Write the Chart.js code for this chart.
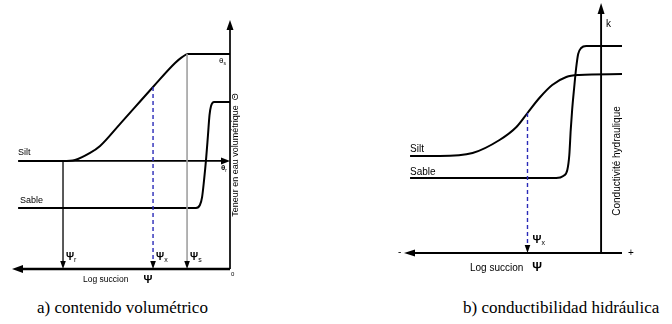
<!DOCTYPE html>
<html>
<head>
<meta charset="utf-8">
<script src="https://cdn.jsdelivr.net/npm/chart.js@4.4.1/dist/chart.umd.min.js"></script>
<style>
  html,body{margin:0;padding:0;background:#fff;}
  #wrap{position:relative;width:672px;height:324px;overflow:hidden;background:#fff;}
  canvas{position:absolute;top:0;}
  .cap{position:absolute;font-family:"Liberation Serif","Times New Roman",serif;font-size:17px;color:#000;white-space:nowrap;line-height:17px;}
</style>
</head>
<body>
<div id="wrap">
  <canvas id="ca" width="336" height="290" style="left:0;width:336px;height:290px"></canvas>
  <canvas id="cb" width="336" height="290" style="left:336px;width:336px;height:290px"></canvas>
  <div class="cap" style="left:37px;top:299px">a) contenido volumétrico</div>
  <div class="cap" style="left:463px;top:299px">b) conductibilidad hidráulica</div>
</div>
<script>
// ---------- DATA (x = log suction, increasing to the left; y = water content / log k) ----------
// Panel a) water content
const aSiltSuction   = [0, 1.93, 2.20, 2.52, 3.53, 5.05, 5.96, 6.42, 7.11, 7.66, 9.72];
const aSiltTheta     = [86.3, 86.3, 85.1, 82.7, 73.1, 58.2, 49.4, 46.6, 43.8, 43.4, 43.4];
const aSableSuction  = [0, 0.73, 0.87, 0.94, 1.01, 1.10, 1.19, 1.28, 1.38, 1.56, 9.72];
const aSableTheta    = [67.1, 67.1, 65.5, 61.8, 53.8, 43.8, 35.7, 28.9, 25.7, 24.5, 24.5];
const aPsiSuction    = [7.66, 3.53, 1.97];        // Ψr, Ψx, Ψs
const aPsiTheta      = [43.4, 73.1, 86.3];        // θ where each marker starts
const aPsiLabels     = ["r", "x", "s"];
const aThetaLevels   = [86.3, 43.4];              // θs, θr
const aThetaLabels   = ["s", "r"];
// Panel b) hydraulic conductivity
const bSiltSuction   = [-1.04, 1.09, 1.73, 2.43, 3.07, 3.66, 4.21, 5.05, 6.39, 8.02, 9.50];
const bSiltK         = [71.6, 71.2, 70.4, 67.2, 62.0, 56.0, 50.4, 45.2, 40.0, 38.8, 38.8];
const bSableSuction  = [-1.04, 0.74, 0.99, 1.14, 1.24, 1.34, 1.44, 1.51, 1.58, 1.68, 1.88, 2.23, 9.50];
const bSableK        = [82.8, 82.8, 82.0, 79.6, 74.0, 66.0, 57.2, 49.2, 39.2, 33.2, 30.8, 30.0, 30.0];
const bPsiSuction    = [3.66];
const bPsiK          = [56.0];
const bPsiLabels     = ["x"];

const toPts = (xs, ys) => xs.map((v, i) => ({x: v, y: ys[i]}));
const SANS = '"Liberation Sans", Arial, sans-serif';

function arrow(ctx, x1, y1, x2, y2, color, lw, hl, hw, dash, headColor) {
  const ang = Math.atan2(y2 - y1, x2 - x1);
  const bx = x2 - Math.cos(ang) * hl, by = y2 - Math.sin(ang) * hl;
  ctx.save();
  ctx.strokeStyle = color; ctx.lineWidth = lw;
  if (dash) ctx.setLineDash(dash);
  ctx.beginPath(); ctx.moveTo(x1, y1); ctx.lineTo(bx, by); ctx.stroke();
  ctx.setLineDash([]);
  ctx.fillStyle = headColor || color;
  ctx.beginPath();
  ctx.moveTo(x2, y2);
  ctx.lineTo(bx + Math.sin(ang) * hw, by - Math.cos(ang) * hw);
  ctx.lineTo(bx - Math.sin(ang) * hw, by + Math.cos(ang) * hw);
  ctx.closePath(); ctx.fill();
  ctx.restore();
}
function txt(ctx, s, x, y, size, opts) {
  opts = opts || {};
  ctx.save();
  ctx.font = (opts.bold ? 'bold ' : '') + size + 'px ' + SANS;
  ctx.fillStyle = '#000';
  ctx.textAlign = opts.align || 'left';
  ctx.textBaseline = 'middle';
  if (opts.rot) { ctx.translate(x, y); ctx.rotate(opts.rot); ctx.fillText(s, 0, 0); }
  else ctx.fillText(s, x, y);
  ctx.restore();
}
function sym(ctx, main, sub, x, y, size, bold) {
  ctx.save();
  ctx.font = (bold ? 'bold ' : '') + size + 'px ' + SANS;
  ctx.fillStyle = '#000'; ctx.textBaseline = 'middle'; ctx.textAlign = 'left';
  ctx.fillText(main, x, y);
  const w = ctx.measureText(main).width;
  ctx.font = Math.round(size * 0.65) + 'px ' + SANS;
  ctx.fillText(sub, x + w, y + size * 0.3);
  ctx.restore();
}

const baseOpts = (xmin, xmax) => ({
  responsive: false, animation: false, devicePixelRatio: 1,
  plugins: {legend: {display: false}, tooltip: {enabled: false}, title: {display: false}},
  elements: {point: {radius: 0}},
  scales: {
    x: {type: 'linear', min: xmin, max: xmax, reverse: true, display: false},
    y: {type: 'linear', min: 0, max: 100, display: false}
  }
});
const curve = (pts) => ({
  data: pts, showLine: true, borderColor: '#000', borderWidth: 2,
  cubicInterpolationMode: 'monotone', pointRadius: 0, clip: false, fill: false
});

// ---------- Panel a ----------
const optsA = baseOpts(0, 10);
optsA.layout = {padding: {left: 12, right: 106, top: 20, bottom: 21}};
new Chart(document.getElementById('ca'), {
  type: 'scatter',
  data: {datasets: [curve(toPts(aSiltSuction, aSiltTheta)), curve(toPts(aSableSuction, aSableTheta))]},
  options: optsA,
  plugins: [{
    id: 'annA',
    afterDatasetsDraw(chart) {
      const ctx = chart.ctx, X = v => chart.scales.x.getPixelForValue(v), Y = v => chart.scales.y.getPixelForValue(v);
      // axes
      arrow(ctx, X(0), Y(0), X(10), Y(0), '#000', 2.4, 11, 4);
      arrow(ctx, X(0), Y(0), X(0), Y(100), '#000', 1.7, 10, 3.5);
      // θr line with arrow to the axis
      arrow(ctx, X(aPsiSuction[0]), Y(aThetaLevels[1]), X(0), Y(aThetaLevels[1]), '#000', 1.7, 9, 3.5);
      // suction markers
      arrow(ctx, X(aPsiSuction[0]), Y(aPsiTheta[0]), X(aPsiSuction[0]), Y(0), '#000', 1.3, 8, 2.8);
      arrow(ctx, X(aPsiSuction[1]), Y(aPsiTheta[1]), X(aPsiSuction[1]), Y(0), '#2a2ab8', 1.4, 8, 2.8, [4, 3], '#000');
      arrow(ctx, X(aPsiSuction[2]), Y(aPsiTheta[2]), X(aPsiSuction[2]), Y(0), '#a0a0a0', 1.6, 8, 2.8, null, '#000');
      aPsiLabels.forEach((l, i) => sym(ctx, 'Ψ', l, X(aPsiSuction[i]) + 3, Y(0) - 12, 10, true));
      // θ labels
      sym(ctx, 'θ', aThetaLabels[0], X(0) - 11, Y(aThetaLevels[0]) + 7, 8, false);
      sym(ctx, 'θ', aThetaLabels[1], X(0) - 9, Y(aThetaLevels[1]) + 7, 8, true);
      // curve labels
      txt(ctx, 'Silt', X(aSiltSuction[aSiltSuction.length - 1]), Y(aSiltTheta[aSiltTheta.length - 1]) - 8, 9);
      txt(ctx, 'Sable', X(aSableSuction[aSableSuction.length - 1]) + 2, Y(aSableTheta[aSableTheta.length - 1]) - 7, 9);
      txt(ctx, '0', X(0) + 1, Y(0) + 5, 6);
      txt(ctx, 'Log succion', 83, Y(0) + 11, 8.5);
      txt(ctx, 'Ψ', 148, Y(0) + 11, 11, {bold: true, align: 'center'});
      txt(ctx, 'Teneur en eau volumétrique  Θ', X(0) + 6, 155, 9, {rot: -Math.PI / 2, align: 'center'});
    }
  }]
});

// ---------- Panel b ----------
const optsB = baseOpts(-1.04, 10);
optsB.layout = {padding: {left: 64, right: 50, top: 3, bottom: 37}};
new Chart(document.getElementById('cb'), {
  type: 'scatter',
  data: {datasets: [curve(toPts(bSiltSuction, bSiltK)), curve(toPts(bSableSuction, bSableK))]},
  options: optsB,
  plugins: [{
    id: 'annB',
    afterDatasetsDraw(chart) {
      const ctx = chart.ctx, X = v => chart.scales.x.getPixelForValue(v), Y = v => chart.scales.y.getPixelForValue(v);
      arrow(ctx, X(-1.04), Y(0), X(9.8), Y(0), '#000', 1.9, 11, 3.5);
      arrow(ctx, X(0), Y(0), X(0), Y(100), '#000', 1.9, 11, 3.5);
      arrow(ctx, X(bPsiSuction[0]), Y(bPsiK[0]), X(bPsiSuction[0]), Y(0), '#2a2ab8', 1.4, 8, 2.8, [4, 3], '#000');
      sym(ctx, 'Ψ', bPsiLabels[0], X(bPsiSuction[0]) + 5, Y(0) - 13, 11, true);
      txt(ctx, 'k', X(0) + 5, 24, 10);
      txt(ctx, '-', 62, Y(0) - 1, 10);
      txt(ctx, '+', X(-1.04) + 6, Y(0), 10);
      txt(ctx, 'Silt', X(bSiltSuction[bSiltSuction.length - 1]), Y(bSiltK[bSiltK.length - 1]) - 7, 10);
      txt(ctx, 'Sable', X(bSableSuction[bSableSuction.length - 1]), Y(bSableK[bSableK.length - 1]) - 6, 10);
      txt(ctx, 'Log succion', 134, Y(0) + 15, 10);
      txt(ctx, 'Ψ', 201, Y(0) + 15, 12, {bold: true, align: 'center'});
      txt(ctx, 'Conductivité hydraulique', X(0) + 16, 161, 10, {rot: -Math.PI / 2, align: 'center'});
    }
  }]
});
</script>
</body>
</html>
